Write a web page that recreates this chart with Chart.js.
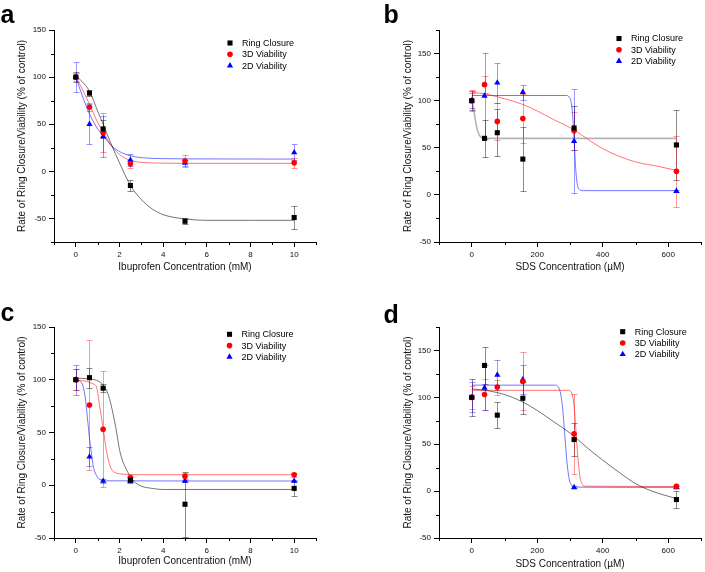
<!DOCTYPE html>
<html>
<head>
<meta charset="utf-8">
<script src="https://cdn.jsdelivr.net/npm/chart.js@4.4.0/dist/chart.umd.min.js"></script>
<style>
  html, body { margin: 0; padding: 0; background: #fff; }
  #wrap { position: relative; width: 705px; height: 572px; }
  canvas { position: absolute; }
</style>
</head>
<body>
<div id="wrap">
  <canvas id="ca" width="352" height="286" style="left:0;top:0"></canvas>
  <canvas id="cb" width="353" height="286" style="left:352px;top:0"></canvas>
  <canvas id="cc" width="352" height="286" style="left:0;top:286px"></canvas>
  <canvas id="cd" width="353" height="286" style="left:352px;top:286px"></canvas>
</div>
<script>
// concentrations
const ibuX = [0, 0.625, 1.25, 2.5, 5, 10];
const sdsX = [0, 39, 78, 156, 312.5, 625];
const seriesNames = ['Ring Closure', '3D Viability', '2D Viability'];

// ticks
const ibuTicks = [0, 2, 4, 6, 8, 10];
const ibuMinor = [-1, 1, 3, 5, 7, 9, 11];
const sdsTicks = [0, 200, 400, 600];
const sdsMinor = [-100, 100, 300, 500, 700];
const yTicksA = [-50, 0, 50, 100, 150];
const yMinorA = [-75, -25, 25, 75, 125];
const yTicksB = [-50, 0, 50, 100, 150];
const yMinorB = [-25, 25, 75, 125, 175];
const yMinorC = [-25, 25, 75, 125];

// panel a
const aRing = [100, 83, 45, -15, -53, -49];
const aRingErr = [5, 3, 10, 6, 3, 12];
const a3D = [100, 68, 41, 8, 11, 9];
const a3DErr = [4, 4, 21, 4, 6, 5.5];
const a2D = [100, 50, 37, 12, 9, 20];
const a2DErr = [16, 21, 22, 6, 3, 8.5];
const aRingFitX = [0, 0.3, 0.625, 1, 1.25, 1.6, 2, 2.5, 3, 3.5, 4, 5, 6, 8, 10];
const aRingFitY = [101, 95, 85, 64, 50, 30, 9, -15, -30, -40, -46, -50.5, -52, -52, -52];
const a3DFitX = [0, 0.3, 0.625, 1, 1.25, 1.6, 2, 2.5, 3, 4, 5, 10];
const a3DFitY = [100, 87, 71, 52, 42, 28, 18, 11.5, 9.5, 8.7, 8.5, 8.5];
const a2DFitX = [0, 0.3, 0.625, 1, 1.25, 1.6, 2, 2.5, 3, 4, 5, 10];
const a2DFitY = [100, 80, 61, 45, 38, 28, 21, 16.5, 14.5, 13.5, 13.2, 13];

// panel b
const bRing = [100, 60, 66, 38, 71, 53];
const bRingErr = [10, 20, 25, 34, 23, 37];
const b3D = [100, 117, 78, 81, 68, 25];
const b3DErr = [11, 9, 20, 26, 20, 38];
const b2D = [100, 105, 119, 109, 57, 4];
const b2DErr = [8, 46, 21, 8, 55, 1];
const bRingFitX = [0, 5, 10, 15, 20, 25, 32, 45, 625];
const bRingFitY = [100, 93, 82, 72, 66, 62.5, 60.5, 60, 60];
const b3DFitX = [0, 50, 100, 156, 200, 250, 312.5, 350, 400, 450, 500, 573, 625];
const b3DFitY = [109, 106.5, 102, 96, 89, 80, 69, 60, 49, 41, 35, 30, 26];
const b2DFitX = [0, 290, 297, 303, 308, 313, 318, 323, 330, 340, 625];
const b2DFitY = [105.5, 105.5, 104, 99, 85, 55, 25, 10, 5.5, 4.5, 4.5];

// panel c
const cRing = [100, 102, 92, 5, -18, -3];
const cRingErr = [10, 9.5, 4, 3, 31, 7];
const c3D = [100, 76, 53, 7, 8.5, 10];
const c3DErr = [10, 62, 55, 3, 3, 2];
const c2D = [100, 27, 4, 4, 4, 4];
const c2DErr = [14, 9, 2, 1, 1, 1];
const cRingFitX = [0, 0.5, 1, 1.25, 1.5, 1.8, 2.03, 2.34, 2.65, 2.96, 3.5, 4, 10];
const cRingFitY = [101.5, 101, 99, 95, 85, 58, 31, 14, 4, -0.5, -3, -4, -4];
const c3DFitX = [0, 0.5, 0.8, 0.95, 1.1, 1.25, 1.4, 1.57, 1.8, 2.2, 3, 10];
const c3DFitY = [99.5, 98.5, 96, 93, 74, 54, 33, 18, 12, 10.5, 10, 10];
const c2DFitX = [0, 0.2, 0.33, 0.45, 0.55, 0.625, 0.71, 0.8, 0.95, 1.1, 1.4, 10];
const c2DFitY = [100, 98.5, 94, 80, 60, 45, 31, 18, 9, 5.5, 4.2, 4];

// panel d
const dRing = [100, 134, 81, 99, 55, -9];
const dRingErr = [20, 20, 14, 17, 18, 9];
const d3D = [100, 103, 111, 117, 61, 5];
const d3DErr = [12, 17, 8, 31, 43, 2];
const d2D = [100, 110, 124, 119, 4, 4];
const d2DErr = [16, 24, 16, 15, 1, 1];
const dRingFitX = [0, 50, 100, 150, 200, 250, 300, 350, 400, 450, 500, 550, 600, 625];
const dRingFitY = [109, 107, 103, 96, 86, 74, 62, 47, 33, 20, 8, 0, -5.5, -8];
const d3DFitX = [0, 295, 303, 309, 314, 319, 325, 331, 338, 348, 625];
const d3DFitY = [107.5, 107.5, 106, 100, 85, 60, 32, 14, 7, 5.2, 5];
const d2DFitX = [0, 255, 262, 270, 277, 284, 291, 298, 305, 313, 625];
const d2DFitY = [113, 113, 112, 106, 90, 60, 30, 12, 6, 4.3, 4];

Chart.defaults.font.family = '"Liberation Sans", Arial, Helvetica, sans-serif';
Chart.defaults.color = '#000';

const markColors = ['#000000', '#ff0000', '#0000ff'];
const errColors = ['rgba(0,0,0,0.45)', 'rgba(255,0,0,0.4)', 'rgba(0,0,255,0.4)'];
const fitColors = ['rgba(0,0,0,0.55)', 'rgba(255,0,0,0.55)', 'rgba(0,0,255,0.55)'];
const shapes = ['rect', 'circle', 'triangle'];
const radii = [3.6, 2.8, 3.6];

const zip = (xs, ys) => xs.map((x, i) => ({ x, y: ys[i] }));

function drawMarker(ctx, shape, x, y, r, color) {
  ctx.fillStyle = color;
  ctx.beginPath();
  if (shape === 'rect') {
    const s = r * Math.SQRT1_2;
    ctx.rect(x - s, y - s, 2 * s, 2 * s);
  } else if (shape === 'circle') {
    ctx.arc(x, y, r, 0, Math.PI * 2);
  } else {
    ctx.moveTo(x, y - r);
    ctx.lineTo(x + r * 0.866, y + r * 0.5);
    ctx.lineTo(x - r * 0.866, y + r * 0.5);
    ctx.closePath();
  }
  ctx.fill();
}

const errorBarPlugin = {
  id: 'errorBars',
  beforeDatasetsDraw(chart) {
    const { ctx, scales: { x, y } } = chart;
    chart.data.datasets.forEach((ds) => {
      if (!ds.errors) return;
      ctx.save();
      ctx.strokeStyle = ds.errorColor;
      ctx.lineWidth = 1;
      ds.data.forEach((p, k) => {
        const e = ds.errors[k];
        const px = Math.round(x.getPixelForValue(p.x)) + 0.5;
        const top = Math.round(y.getPixelForValue(p.y + e)) + 0.5;
        const bot = Math.round(y.getPixelForValue(p.y - e)) + 0.5;
        ctx.beginPath();
        ctx.moveTo(px, top); ctx.lineTo(px, bot);
        ctx.moveTo(px - 3, top); ctx.lineTo(px + 3, top);
        ctx.moveTo(px - 3, bot); ctx.lineTo(px + 3, bot);
        ctx.stroke();
      });
      ctx.restore();
    });
  }
};

const decorPlugin = {
  id: 'decor',
  afterDraw(chart, args, opts) {
    const { ctx, chartArea, scales: { x, y } } = chart;
    ctx.save();
    // minor ticks
    ctx.strokeStyle = '#000';
    ctx.lineWidth = 1;
    ctx.beginPath();
    opts.minorX.forEach(v => {
      const px = Math.round(x.getPixelForValue(v)) + 0.5;
      ctx.moveTo(px, chartArea.bottom);
      ctx.lineTo(px, chartArea.bottom + 3);
    });
    opts.minorY.forEach(v => {
      const py = Math.round(y.getPixelForValue(v)) + 0.5;
      ctx.moveTo(chartArea.left, py);
      ctx.lineTo(chartArea.left - 3, py);
    });
    ctx.stroke();
    // legend
    ctx.font = '9px "Liberation Sans", Arial, sans-serif';
    ctx.textBaseline = 'middle';
    ctx.textAlign = 'left';
    seriesNames.forEach((name, i) => {
      const ly = opts.legendY + i * 11.3;
      drawMarker(ctx, shapes[i], opts.legendX, ly, radii[i], markColors[i]);
      ctx.fillStyle = '#000';
      ctx.fillText(name, opts.legendX + 12, ly + 0.5);
    });
    // panel letter
    ctx.font = 'bold 25px "Liberation Sans", Arial, sans-serif';
    ctx.textBaseline = 'alphabetic';
    ctx.fillStyle = '#000';
    ctx.fillText(opts.letter, opts.letterX, opts.letterY);
    ctx.restore();
  }
};

function makePanel(id, p) {
  const datasets = [];
  p.series.forEach((s, i) => {
    datasets.push({
      label: seriesNames[i],
      data: zip(p.xs, s.y),
      errors: s.err,
      errorColor: errColors[i],
      pointStyle: shapes[i],
      pointRadius: radii[i],
      pointBackgroundColor: markColors[i],
      pointBorderWidth: 0,
      showLine: false
    });
  });
  p.series.forEach((s, i) => {
    datasets.push({
      type: 'line',
      data: zip(s.fx, s.fy),
      borderColor: i === 0 && p.ringFitColor ? p.ringFitColor : fitColors[i],
      borderWidth: i === 0 && p.ringFitWidth ? p.ringFitWidth : 1,
      pointRadius: 0,
      fill: false,
      cubicInterpolationMode: 'monotone'
    });
  });
  const axisBase = {
    type: 'linear',
    border: { display: true, color: '#000', width: 1 },
    grid: { drawOnChartArea: false, drawTicks: true, tickLength: 5, color: '#000', tickColor: '#000' },
    ticks: { font: { size: 8 }, color: '#111', padding: 3, autoSkip: false, maxRotation: 0 }
  };
  return new Chart(document.getElementById(id), {
    type: 'scatter',
    data: { datasets },
    options: {
      responsive: false,
      animation: false,
      events: [],
      layout: { padding: p.pad },
      plugins: {
        legend: { display: false },
        tooltip: { enabled: false },
        decor: p.decor
      },
      scales: {
        x: {
          ...axisBase,
          min: p.xMin, max: p.xMax,
          afterBuildTicks: (s) => { s.ticks = p.xTicks.map(v => ({ value: v })); },
          afterFit: (s) => { s.height = p.xH; },
          title: { display: true, text: p.xTitle, font: { size: 10 }, color: '#111', padding: { top: 0, bottom: p.xTitlePad } }
        },
        y: {
          ...axisBase,
          min: p.yMin, max: p.yMax,
          afterBuildTicks: (s) => { s.ticks = p.yTicks.map(v => ({ value: v })); },
          afterFit: (s) => { s.width = p.yW; },
          title: { display: true, text: 'Rate of Ring Closure/Viability (% of control)', font: { size: 10 }, color: '#111', padding: { top: p.yTitlePad, bottom: 0 } }
        }
      }
    },
    plugins: [errorBarPlugin, decorPlugin]
  });
}

makePanel('ca', {
  xs: ibuX, xMin: -1, xMax: 11, xTicks: ibuTicks, yMin: -75, yMax: 150, yTicks: yTicksA,
  xTitle: 'Ibuprofen Concentration (mM)',
  pad: { left: 0, top: 30, right: 36, bottom: 0 }, xH: 44, yW: 54, xTitlePad: 13, yTitlePad: 16.5,
  series: [
    { y: aRing, err: aRingErr, fx: aRingFitX, fy: aRingFitY },
    { y: a3D, err: a3DErr, fx: a3DFitX, fy: a3DFitY },
    { y: a2D, err: a2DErr, fx: a2DFitX, fy: a2DFitY }
  ],
  decor: { minorX: ibuMinor, minorY: yMinorA, legendX: 230, legendY: 43, letter: 'a', letterX: 0.5, letterY: 23 }
});

makePanel('cb', {
  xs: sdsX, xMin: -100, xMax: 700, xTicks: sdsTicks, yMin: -50, yMax: 175, yTicks: yTicksB,
  xTitle: 'SDS Concentration (\u00b5M)',
  pad: { left: 0, top: 30, right: 3, bottom: 0 }, xH: 44, yW: 87, xTitlePad: 13, yTitlePad: 50.5,
  ringFitColor: 'rgba(120,120,120,0.55)', ringFitWidth: 1.6,
  series: [
    { y: bRing, err: bRingErr, fx: bRingFitX, fy: bRingFitY },
    { y: b3D, err: b3DErr, fx: b3DFitX, fy: b3DFitY },
    { y: b2D, err: b2DErr, fx: b2DFitX, fy: b2DFitY }
  ],
  decor: { minorX: sdsMinor, minorY: yMinorB, legendX: 267, legendY: 38.5, letter: 'b', letterX: 31.5, letterY: 23 }
});

makePanel('cc', {
  xs: ibuX, xMin: -1, xMax: 11, xTicks: ibuTicks, yMin: -50, yMax: 150, yTicks: yTicksA,
  xTitle: 'Ibuprofen Concentration (mM)',
  pad: { left: 0, top: 41, right: 36, bottom: 0 }, xH: 34, yW: 54, xTitlePad: 4.5, yTitlePad: 16.5,
  series: [
    { y: cRing, err: cRingErr, fx: cRingFitX, fy: cRingFitY },
    { y: c3D, err: c3DErr, fx: c3DFitX, fy: c3DFitY },
    { y: c2D, err: c2DErr, fx: c2DFitX, fy: c2DFitY }
  ],
  decor: { minorX: ibuMinor, minorY: yMinorC, legendX: 229.5, legendY: 48.3, letter: 'c', letterX: 0.5, letterY: 35 }
});

makePanel('cd', {
  xs: sdsX, xMin: -100, xMax: 700, xTicks: sdsTicks, yMin: -50, yMax: 175, yTicks: yTicksB,
  xTitle: 'SDS Concentration (\u00b5M)',
  pad: { left: 0, top: 41, right: 3, bottom: 0 }, xH: 34, yW: 87, xTitlePad: 2, yTitlePad: 50,
  series: [
    { y: dRing, err: dRingErr, fx: dRingFitX, fy: dRingFitY },
    { y: d3D, err: d3DErr, fx: d3DFitX, fy: d3DFitY },
    { y: d2D, err: d2DErr, fx: d2DFitX, fy: d2DFitY }
  ],
  decor: { minorX: sdsMinor, minorY: yMinorB, legendX: 270.7, legendY: 45.7, letter: 'd', letterX: 31.5, letterY: 36.7 }
});
</script>
</body>
</html>
